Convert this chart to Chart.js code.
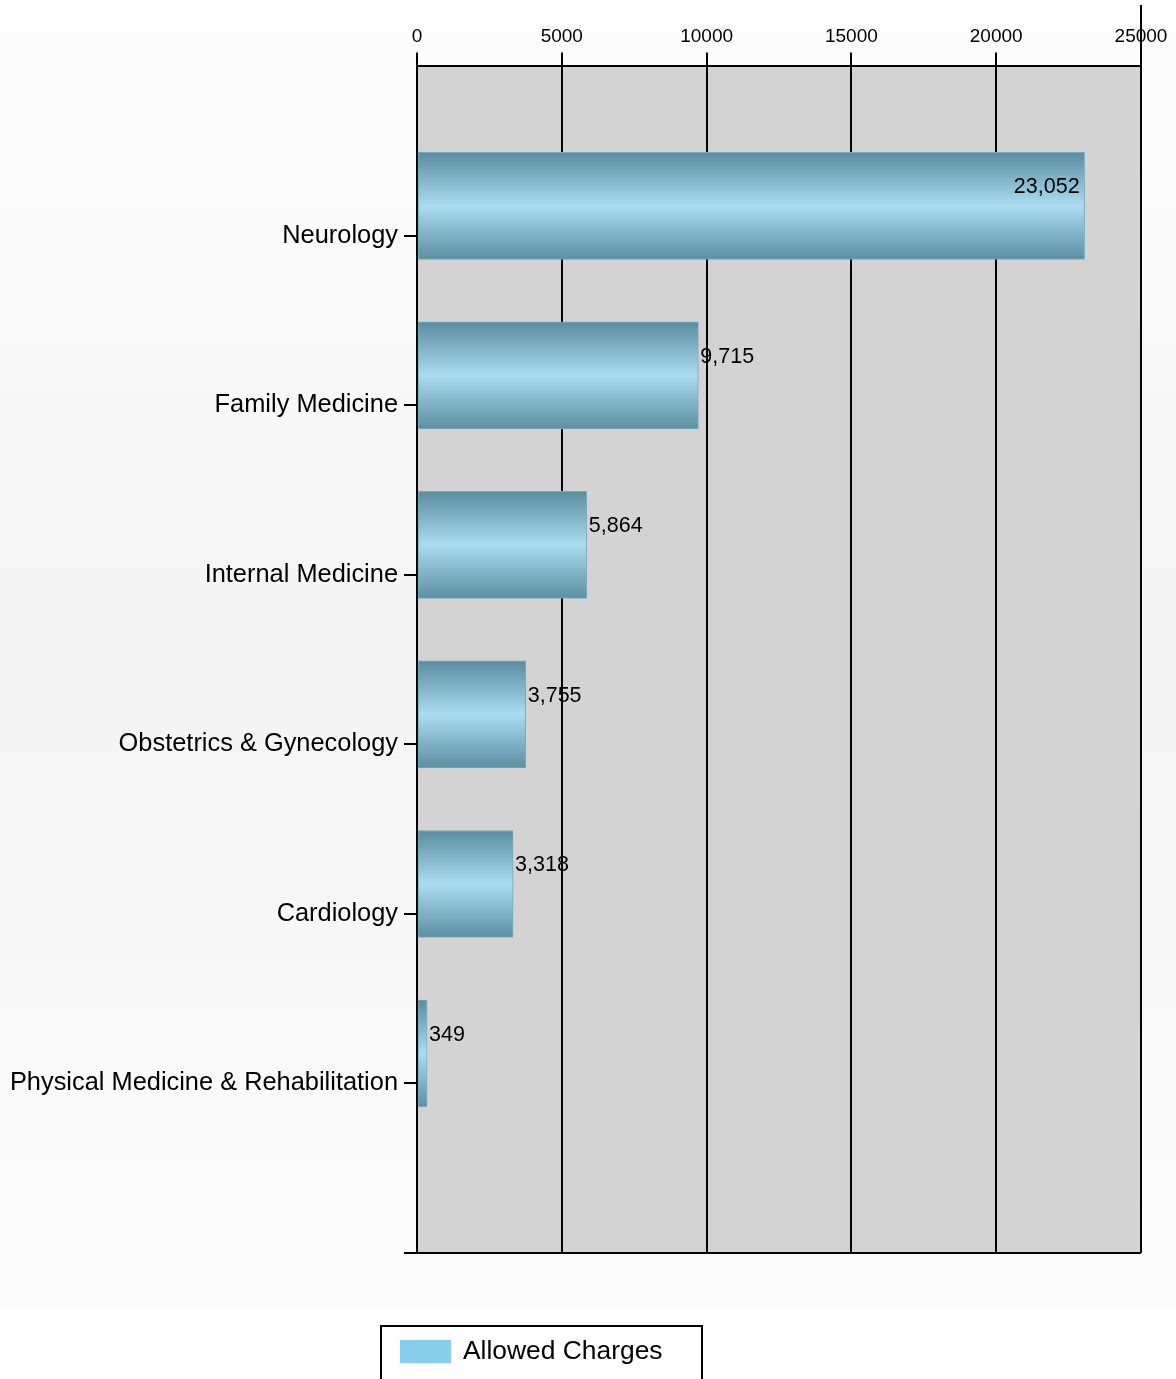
<!DOCTYPE html>
<html lang="en">
<head>
    <meta charset="UTF-8">
    <title>Allowed Charges by Specialty</title>
    <script src="https://cdn.jsdelivr.net/npm/chart.js"></script>
    <style>
        body {
            margin: 0;
            background: #ffffff;
        }
        #wrap {
            width: 1176px;
            height: 1379px;
        }
    </style>
</head>
<body>
    <div id="wrap"><canvas id="chart" width="1176" height="1379"></canvas></div>

    <script>
        // Data
        const specialties = ['Neurology', 'Family Medicine', 'Internal Medicine', 'Obstetrics & Gynecology', 'Cardiology', 'Physical Medicine & Rehabilitation'];
        const allowedCharges = [23052, 9715, 5864, 3755, 3318, 349];
        const xTicks = [0, 5000, 10000, 15000, 20000, 25000];
        const seriesName = 'Allowed Charges';

        const FONT = '"Liberation Sans", Arial, sans-serif';
        Chart.defaults.font.family = FONT;
        Chart.defaults.color = '#000';

        // label axis has an empty slot above and below the categories
        const axisLabels = [''].concat(specialties, ['']);

        // where each value label goes: outside the bar end, or inside when it would not fit
        function labelSpots(chart) {
            const { ctx, chartArea: a } = chart;
            const meta = chart.getDatasetMeta(0);
            ctx.font = '21.5px ' + FONT;
            return meta.data.map((bar, i) => {
                const txt = allowedCharges[i].toLocaleString('en-US');
                const w = ctx.measureText(txt).width;
                const y = bar.y - bar.height / 2 + 35;
                const inside = bar.x + 2 + w > a.right;
                return { txt, y, inside, x: inside ? bar.x - 5 : bar.x + 2 };
            });
        }

        function drawLabels(chart, inside) {
            const ctx = chart.ctx;
            ctx.save();
            const spots = labelSpots(chart);
            ctx.fillStyle = '#000';
            ctx.textBaseline = 'middle';
            spots.filter(s => s.inside === inside).forEach(s => {
                ctx.textAlign = inside ? 'right' : 'left';
                ctx.fillText(s.txt, s.x, s.y);
            });
            ctx.restore();
        }

        // page background, gray plot area, outside value labels (under the grid lines)
        const backgroundPlugin = {
            id: 'background',
            beforeDraw(chart) {
                const { ctx, chartArea: a, width } = chart;
                ctx.save();
                const g = ctx.createLinearGradient(0, 8, 0, 1308);
                g.addColorStop(0, '#fdfdfd');
                g.addColorStop(0.5, '#f4f4f4');
                g.addColorStop(1, '#fcfcfc');
                ctx.fillStyle = g;
                ctx.fillRect(0, 8, width, 1300);

                ctx.fillStyle = '#d3d3d3';
                ctx.fillRect(a.left, a.top, a.right - a.left, a.bottom - a.top);
                ctx.restore();
                drawLabels(chart, false);
            },
            afterDatasetsDraw(chart) {
                drawLabels(chart, true);
            }
        };

        // right edge line going up past the axis, plus the boxed legend at the bottom
        const extrasPlugin = {
            id: 'extras',
            afterDraw(chart) {
                const { ctx, chartArea: a } = chart;
                const xr = chart.scales.x.getPixelForValue(xTicks[xTicks.length - 1]);
                ctx.save();
                ctx.strokeStyle = '#000';
                ctx.lineWidth = 2;
                ctx.beginPath();
                ctx.moveTo(xr, 5);
                ctx.lineTo(xr, a.top);
                ctx.stroke();

                ctx.strokeRect(381, 1326, 321, 70);
                ctx.fillStyle = '#87ceeb';
                ctx.fillRect(400, 1340, 51, 23);
                ctx.fillStyle = '#000';
                ctx.font = '26.4px ' + FONT;
                ctx.textAlign = 'left';
                ctx.textBaseline = 'middle';
                ctx.fillText(chart.data.datasets[0].label, 463, 1352);
                ctx.restore();
            }
        };

        function barGradient(c) {
            const chart = c.chart;
            if (!chart.chartArea || !chart.scales.yb) return '#87ceeb';
            const center = chart.scales.yb.getPixelForValue(c.parsed ? c.parsed.y : c.dataIndex);
            const half = c.dataset.barThickness / 2;
            const g = chart.ctx.createLinearGradient(0, center - half, 0, center + half);
            g.addColorStop(0, '#5a8da0');
            g.addColorStop(0.5, '#aadcf2');
            g.addColorStop(1, '#5c8fa2');
            return g;
        }

        new Chart(document.getElementById('chart'), {
            type: 'bar',
            data: {
                datasets: [{
                    label: seriesName,
                    data: allowedCharges.map((v, i) => ({ x: v, y: i })),
                    xAxisID: 'x',
                    yAxisID: 'yb',
                    barThickness: 107,
                    backgroundColor: barGradient,
                    borderColor: '#7aaabd',
                    borderWidth: 1,
                    borderSkipped: false
                }]
            },
            options: {
                indexAxis: 'y',
                responsive: false,
                animation: false,
                layout: { padding: { top: 21.6, right: 35, bottom: 126, left: 0 } },
                plugins: {
                    legend: { display: false },
                    tooltip: { enabled: false }
                },
                scales: {
                    x: {
                        type: 'linear',
                        position: 'top',
                        min: 0,
                        max: 25000,
                        afterBuildTicks: s => { s.ticks = xTicks.map(v => ({ value: v })); },
                        ticks: {
                            callback: v => String(v),
                            font: { size: 19 },
                            color: '#000',
                            padding: 4
                        },
                        grid: {
                            color: '#000',
                            lineWidth: 2,
                            tickLength: 14,
                            drawOnChartArea: true,
                            offset: false
                        },
                        border: { display: true, color: '#000', width: 2 }
                    },
                    y: {
                        type: 'category',
                        labels: axisLabels,
                        position: 'left',
                        offset: false,
                        afterFit: s => { s.width = 417; },
                        ticks: {
                            font: { size: 25.4 },
                            color: '#000',
                            padding: 6,
                            autoSkip: false
                        },
                        grid: {
                            offset: false,
                            drawOnChartArea: true,
                            color: c => c.index === axisLabels.length - 1 ? '#000' : 'rgba(0,0,0,0)',
                            tickColor: c => c.index === 0 ? 'rgba(0,0,0,0)' : '#000',
                            lineWidth: 2,
                            tickWidth: 2,
                            tickLength: 13
                        },
                        border: { display: true, color: '#000', width: 2 }
                    },
                    yb: {
                        type: 'linear',
                        display: false,
                        reverse: true,
                        offset: false,
                        min: -0.823,
                        max: 6.177
                    }
                }
            },
            plugins: [backgroundPlugin, extrasPlugin]
        });
    </script>
</body>
</html>
